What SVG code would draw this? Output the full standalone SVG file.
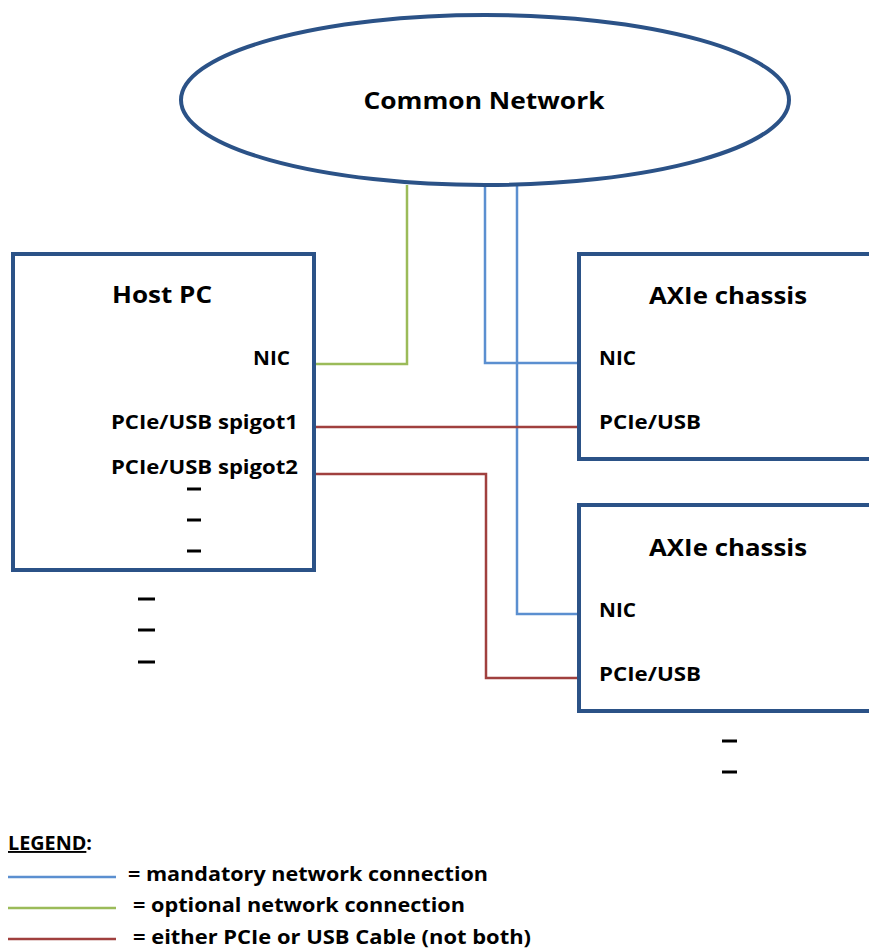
<svg xmlns="http://www.w3.org/2000/svg" width="869" height="950" viewBox="0 0 869 950">
<style>
.box{fill:#fff;stroke:#2b5287;stroke-width:4}
.t{font-family:"Open Sans","Liberation Sans",sans-serif;font-weight:bold;fill:#000}
.h{font-size:23px}
.l{font-size:19px}
.blue{stroke:#5b8fd0;stroke-width:2.5;fill:none}
.green{stroke:#9bbb59;stroke-width:2.5;fill:none}
.red{stroke:#a0403e;stroke-width:2.5;fill:none}
.dash{stroke:#000;stroke-width:3}
</style>
<rect width="869" height="950" fill="#fff"/>
<g id="connectors">
<polyline class="green" points="407,185 407,364 314,364"/>
<polyline class="blue" points="485,185 485,363 579,363"/>
<polyline class="blue" points="517,185 517,614 579,614"/>
<polyline class="red" points="314,427 579,427"/>
<polyline class="red" points="314,474 486,474 486,678 579,678"/>
</g>
<g id="common-network">
<ellipse class="box" cx="485" cy="100" rx="304" ry="85"/>
<text class="t h" x="484" y="109" text-anchor="middle" textLength="241" lengthAdjust="spacingAndGlyphs">Common Network</text>
</g>
<g id="host-pc">
<rect class="box" x="13" y="254" width="301" height="316"/>
<text class="t h" x="112" y="303" textLength="100" lengthAdjust="spacingAndGlyphs">Host PC</text>
<text class="t l" x="253" y="365" textLength="37" lengthAdjust="spacingAndGlyphs">NIC</text>
<text class="t l" x="111" y="429" textLength="187" lengthAdjust="spacingAndGlyphs">PCIe/USB spigot1</text>
<text class="t l" x="111" y="474" textLength="187" lengthAdjust="spacingAndGlyphs">PCIe/USB spigot2</text>
<line class="dash" x1="187" y1="489" x2="201" y2="489"/>
<line class="dash" x1="187" y1="520" x2="201" y2="520"/>
<line class="dash" x1="187" y1="551" x2="201" y2="551"/>
</g>
<g id="host-more">
<line class="dash" x1="138" y1="599" x2="155" y2="599"/>
<line class="dash" x1="138" y1="630" x2="155" y2="630"/>
<line class="dash" x1="138" y1="662" x2="155" y2="662"/>
</g>
<g id="axie-1">
<rect class="box" x="579" y="254" width="300" height="205"/>
<text class="t h" x="649" y="304" textLength="158" lengthAdjust="spacingAndGlyphs">AXIe chassis</text>
<text class="t l" x="599" y="365" textLength="37" lengthAdjust="spacingAndGlyphs">NIC</text>
<text class="t l" x="599" y="429" textLength="102" lengthAdjust="spacingAndGlyphs">PCIe/USB</text>
</g>
<g id="axie-2">
<rect class="box" x="579" y="505" width="300" height="206"/>
<text class="t h" x="649" y="556" textLength="158" lengthAdjust="spacingAndGlyphs">AXIe chassis</text>
<text class="t l" x="599" y="617" textLength="37" lengthAdjust="spacingAndGlyphs">NIC</text>
<text class="t l" x="599" y="681" textLength="102" lengthAdjust="spacingAndGlyphs">PCIe/USB</text>
</g>
<g id="axie-more">
<line class="dash" x1="722" y1="741" x2="737" y2="741"/>
<line class="dash" x1="722" y1="772" x2="737" y2="772"/>
</g>
<g id="legend">
<text class="t l" x="8" y="850" textLength="84" lengthAdjust="spacingAndGlyphs"><tspan text-decoration="underline">LEGEND</tspan>:</text>
<line class="blue" x1="8" y1="877" x2="116" y2="877"/>
<line class="green" x1="8" y1="908" x2="116" y2="908"/>
<line class="red" x1="8" y1="939" x2="116" y2="939"/>
<text class="t l" x="128" y="881" textLength="360" lengthAdjust="spacingAndGlyphs">= mandatory network connection</text>
<text class="t l" x="133" y="912" textLength="332" lengthAdjust="spacingAndGlyphs">= optional network connection</text>
<text class="t l" x="133" y="944" textLength="398" lengthAdjust="spacingAndGlyphs">= either PCIe or USB Cable (not both)</text>
</g>
</svg>
